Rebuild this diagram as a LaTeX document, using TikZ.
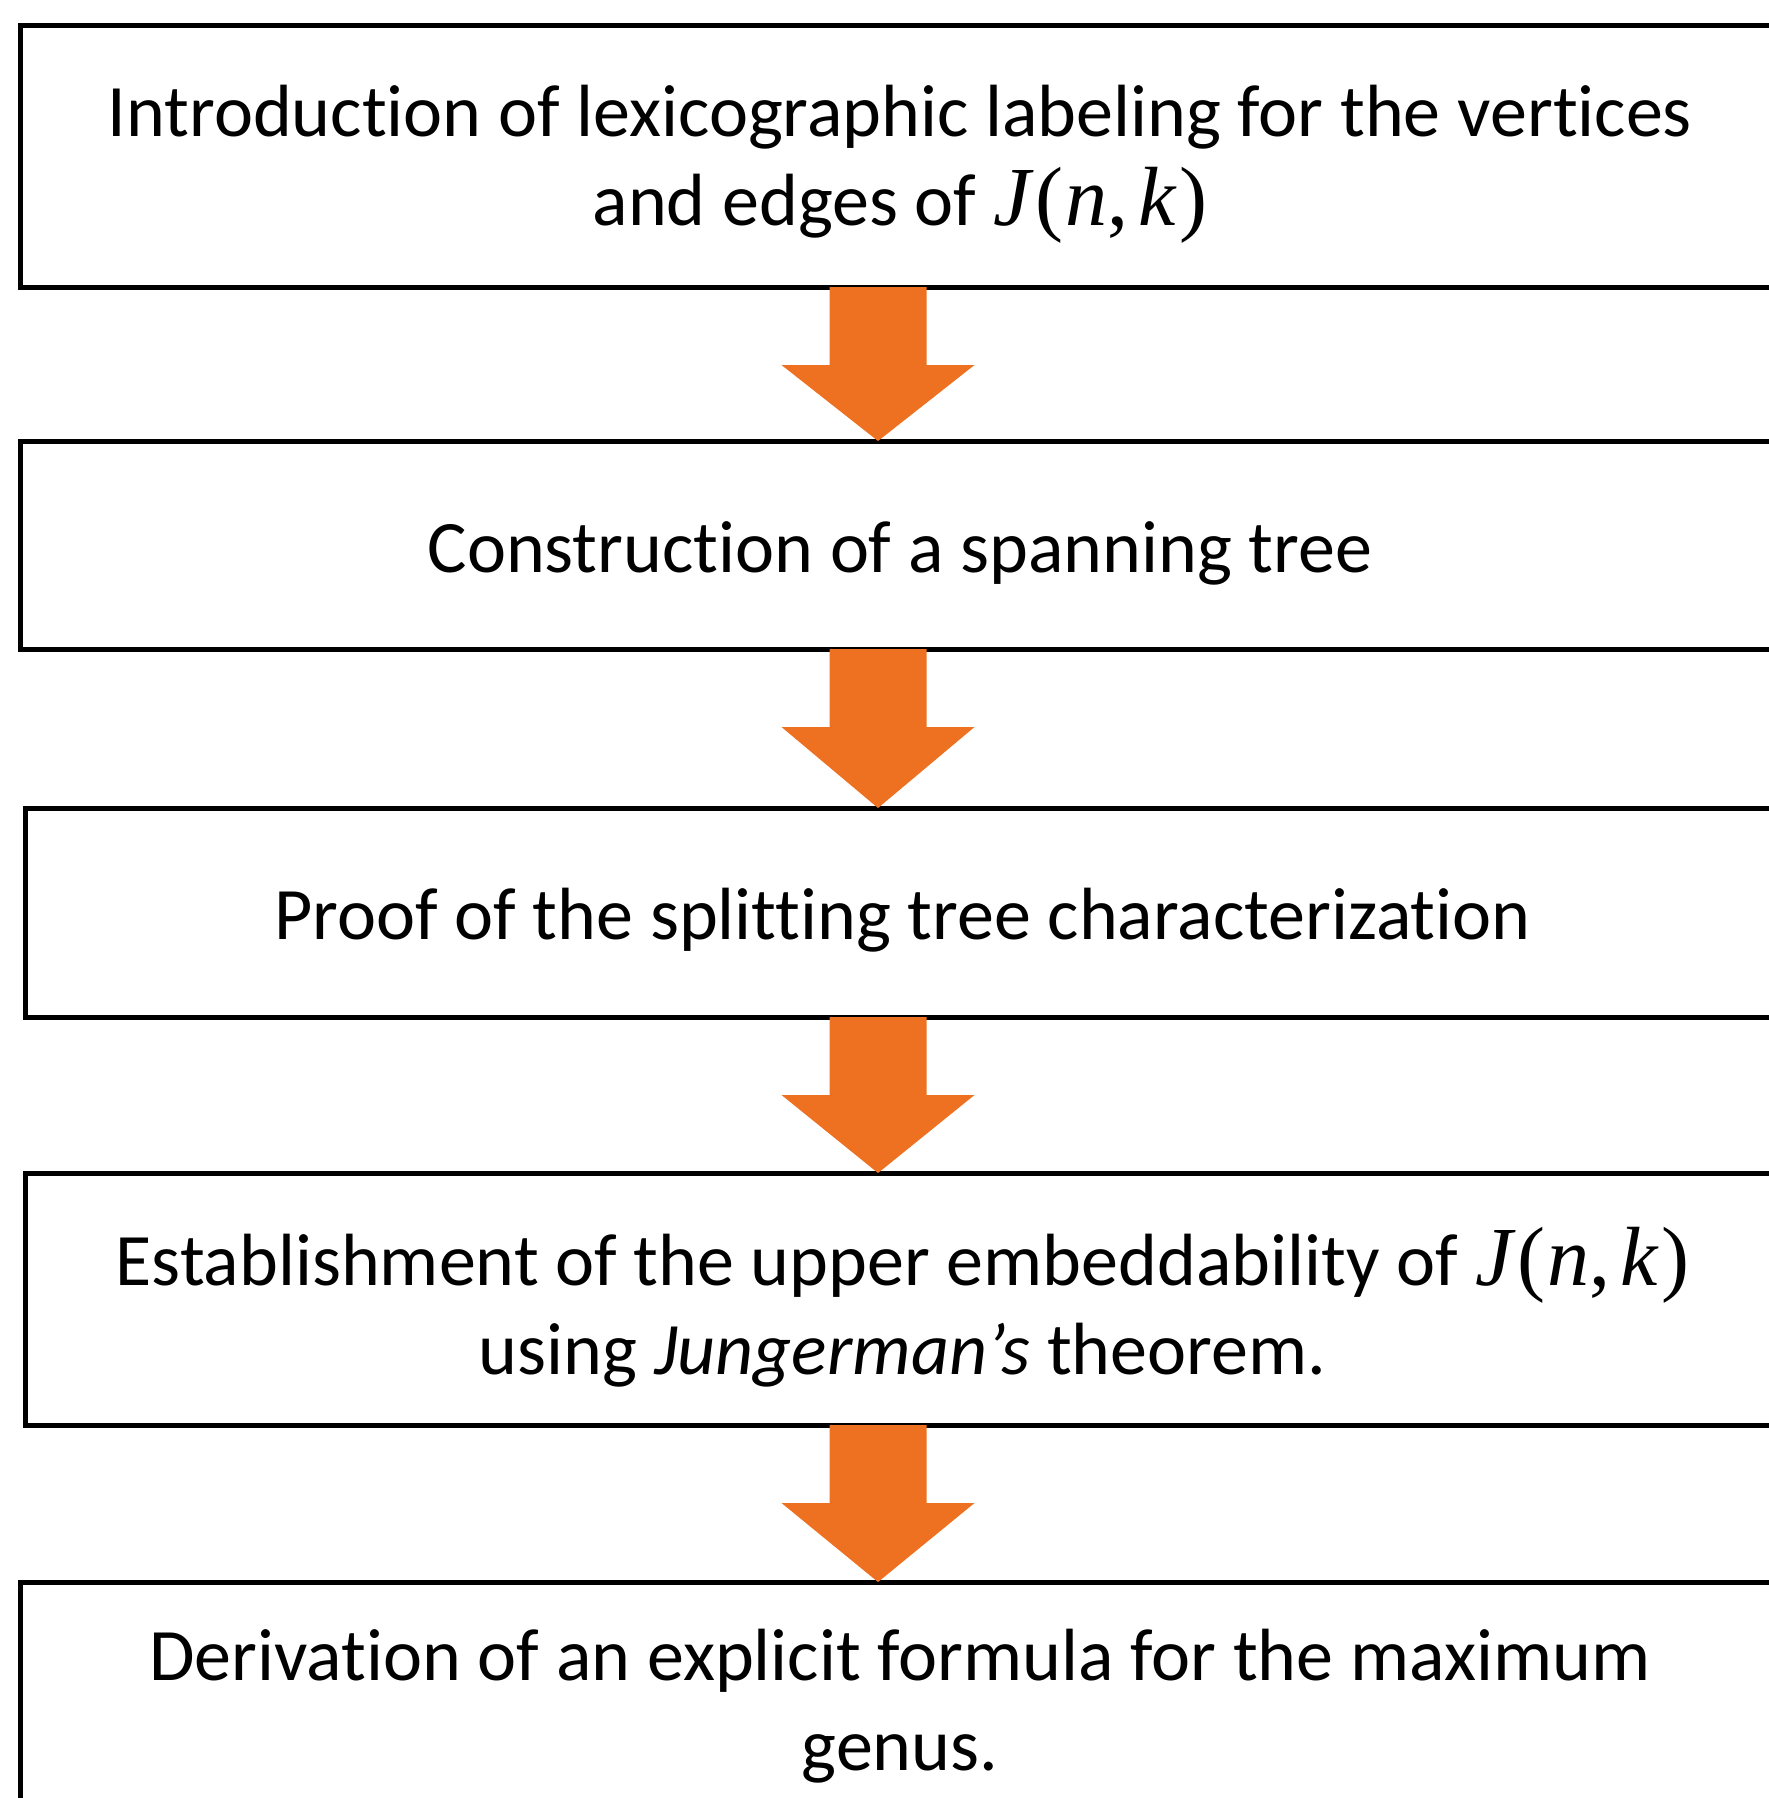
\documentclass[tikz,border=0pt]{standalone}
\usepackage{fontspec}
\setmainfont{Carlito}[Ligatures=NoCommon]
\newfontfamily\mathserif{Liberation Serif}
\usepackage{tikz}
\usetikzlibrary{positioning,calc}
\definecolor{arroworange}{HTML}{ED7120}
\newcommand{\Jnk}{{\fontsize{42}{44.7}\selectfont\mathserif{\itshape J\/}\kern1pt(\kern1pt{\itshape n},\kern5pt{\itshape k\/}\kern1pt)}}
\newcommand{\flowarrow}[2]{
	\fill[arroworange] ($(#1.south -| ax)+(-48.5,0)$) -- ($(#1.south -| ax)+(48.5,0)$) -- ($(#1.south -| ax)+(48.5,78)$) -- ($(#1.south -| ax)+(96.5,78)$) -- (#2.north -| ax) -- ($(#1.south -| ax)+(-96.5,78)$) -- ($(#1.south -| ax)+(-48.5,78)$) -- cycle;
}
\tikzset{
	stepbox/.style={draw, line width=2.5pt, outer sep=0pt, inner sep=0pt, minimum width=#1},
	steptext/.style={align=center, inner sep=0pt, font=\fontsize{37}{44.7}\selectfont, yshift=-4pt}
}

\begin{document}
\begin{tikzpicture}[x=0.5pt,y=-0.5pt]
		\useasboundingbox (0,0) rectangle (1768,1798);
		\coordinate (ax) at (878,0);
		
		\node[stepbox=880pt, minimum height=130.5pt] (intro) at (900,156.5) {};
		\node[steptext] (intro_txt) at (intro.center) {Introduction of lexicographic labeling for the vertices\\and edges of \Jnk};
		\node[stepbox=880pt, minimum height=104pt] (tree) at (900,545) {};
		\node[steptext] (tree_txt) at (tree.center) {Construction of a spanning tree};
		\node[stepbox=877.5pt, minimum height=104.5pt] (split) at (902.5,912.5) {};
		\node[steptext] (split_txt) at (split.center) {Proof of the splitting tree characterization};
		\node[stepbox=877.5pt, minimum height=126pt] (upper) at (902.5,1299) {};
		\node[steptext] (upper_txt) at (upper.center) {Establishment of the upper embeddability of \Jnk\\using \textit{Jungerman’s} theorem.};
		\node[stepbox=880pt, minimum height=124pt] (genus) at (900,1706) {};
		\node[steptext, yshift=4pt] (genus_txt) at (genus.center) {Derivation of an explicit formula for the maximum\\genus.};
		
		\flowarrow{intro}{tree}
		\flowarrow{tree}{split}
		\flowarrow{split}{upper}
		\flowarrow{upper}{genus}
	\end{tikzpicture}
\end{document}
